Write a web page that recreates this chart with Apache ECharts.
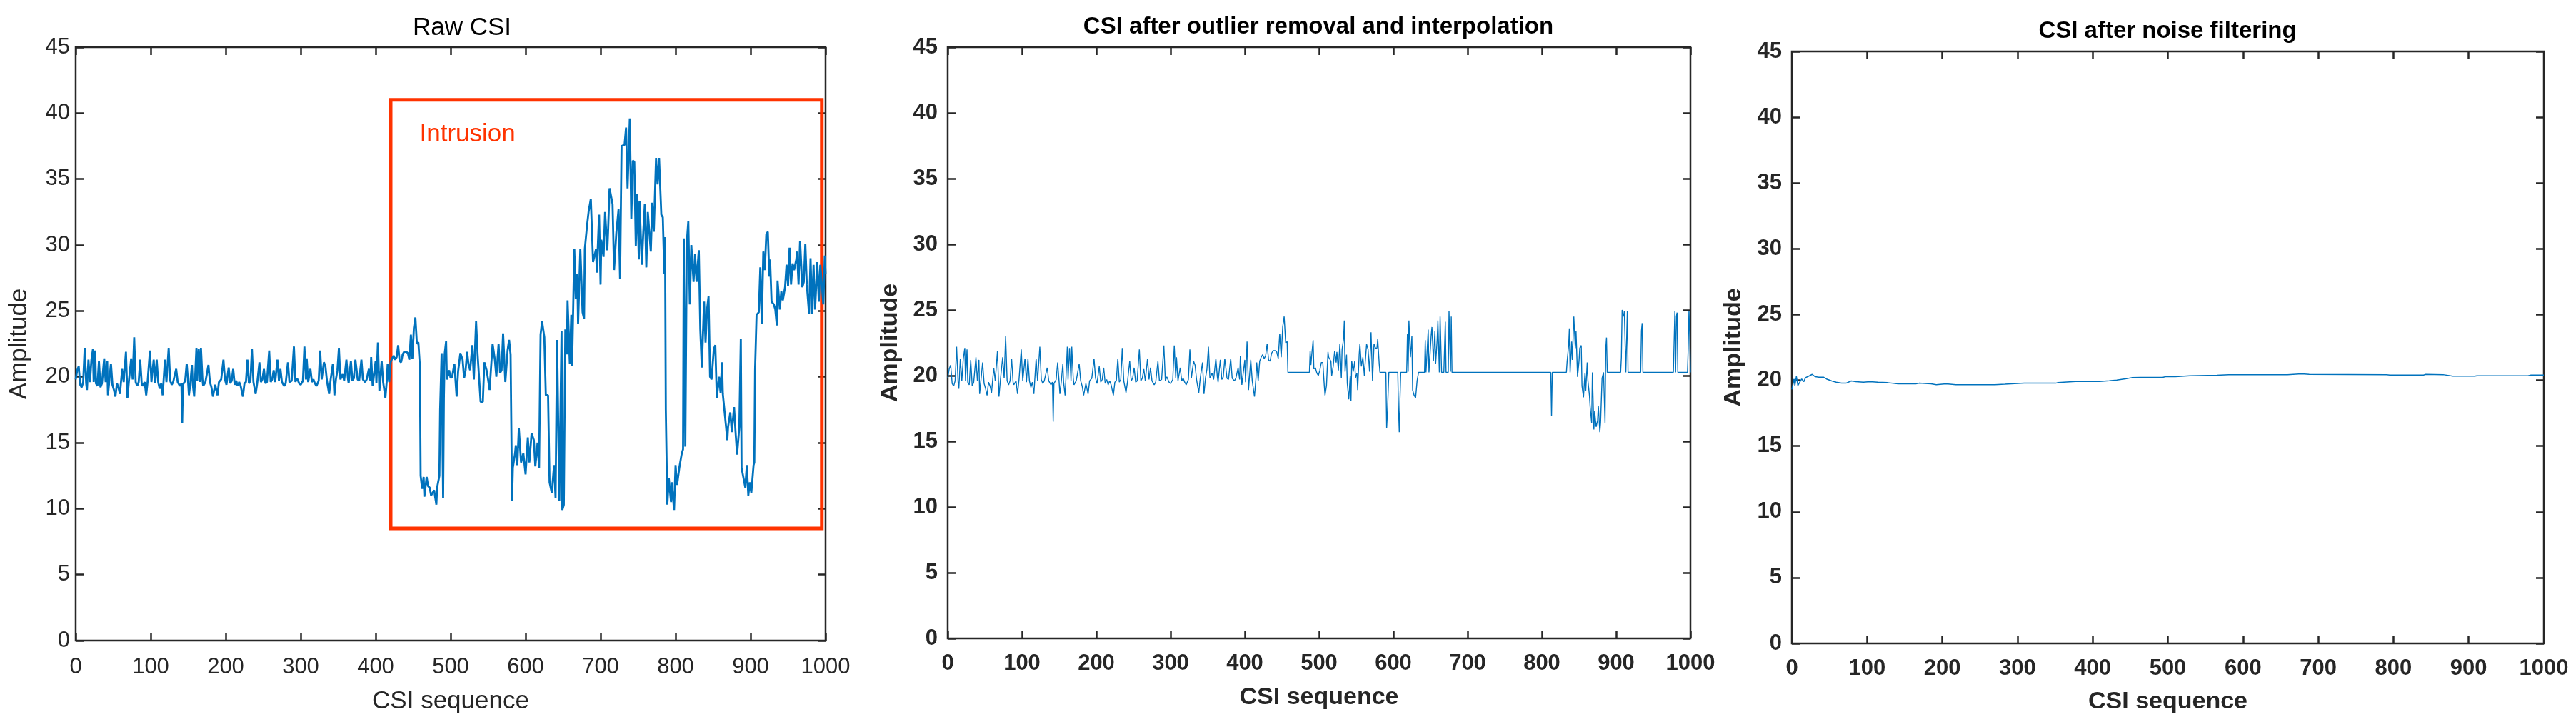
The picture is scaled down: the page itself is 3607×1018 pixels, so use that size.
<!DOCTYPE html>
<html>
<head>
    <meta charset="utf-8">
    <title>CSI</title>
    <script src="https://cdn.jsdelivr.net/npm/echarts@6/dist/echarts.min.js"></script>
    <style>
        html, body { margin: 0; padding: 0; background: #fff; }
        #main { width: 3607px; height: 1018px; }
    </style>
</head>
<body>
    <div id="main"></div>
    <script type="text/javascript">
        // panel titles
        var titles = ['Raw CSI', 'CSI after outlier removal and interpolation', 'CSI after noise filtering'];

        // raw CSI amplitude, [sequence index, amplitude]
        var rawCsi = [
            [0,19.8],[2,20.5],[4,20.8],[6,19.4],[8,19.2],[10,19.6],[12,22.2],[14,19.5],[15,19.0],[17,21.3],[19,19.6],[21,21.3],[23,22.1],[24,19.6],[26,22.0],[27,19.5],[29,19.3],[31,21.2],[33,19.2],[35,19.5],[38,21.4],[40,19.6],[42,21.2],[43,18.6],[45,19.8],[47,21.0],[49,19.4],[51,19.0],[53,18.5],[55,19.5],[57,19.2],[59,18.7],
            [62,20.6],[64,19.6],[67,21.9],[69,18.4],[71,19.7],[74,21.4],[76,19.8],[78,23.0],[80,19.6],[82,19.3],[84,19.6],[86,21.3],[88,19.5],[89,19.3],[92,19.6],[94,18.6],[96,19.7],[99,22.0],[101,19.6],[104,21.3],[106,19.5],[108,21.3],[110,19.6],[112,19.1],[114,19.5],[116,18.6],[119,21.3],[121,19.6],[124,22.2],[126,19.7],[128,19.4],[130,19.6],
            [134,20.6],[136,19.6],[139,19.3],[141,19.5],[142,16.5],[143,19.4],[146,19.7],[148,21.0],[150,19.5],[151,18.6],[153,19.6],[155,20.9],[156,19.5],[158,18.5],[159,19.6],[161,22.2],[162,19.7],[164,22.1],[166,19.6],[167,22.2],[169,19.8],[170,19.3],[173,19.6],[177,20.9],[179,19.6],[181,19.2],[183,18.5],[186,19.4],[189,18.6],[191,19.6],[194,19.8],[197,21.3],[199,19.8],
            [201,19.4],[204,20.7],[206,19.5],[208,19.7],[210,20.6],[212,19.4],[214,19.7],[216,19.3],[218,19.6],[220,19.3],[223,18.5],[225,19.5],[227,19.6],[229,21.3],[231,19.5],[233,19.7],[235,22.1],[237,19.6],[240,18.7],[242,19.5],[245,21.1],[247,19.6],[249,19.8],[251,20.6],[253,19.5],[255,19.6],[258,22.0],[260,19.6],[262,19.8],[264,20.5],[266,19.6],[269,21.3],[271,19.7],[273,20.6],[275,19.6],[278,19.3],[280,19.5],[283,21.1],[285,19.6],[288,19.7],[291,22.3],[293,19.6],[295,19.9],[298,19.5],
            [300,19.4],[303,19.7],[305,22.3],[307,19.8],[308,21.4],[310,19.6],[313,20.6],[315,19.6],[317,19.8],[319,19.5],[321,19.3],[324,19.7],[326,22.0],[328,19.8],[331,21.1],[333,20.8],[335,19.7],[338,18.7],[340,19.8],[343,21.0],[345,18.6],[347,19.8],[349,20.5],[351,22.2],[353,19.8],[356,20.2],[358,19.7],[361,21.3],[363,19.9],[364,19.5],[367,21.2],[369,19.7],[371,19.9],[373,21.3],[376,19.8],[378,19.7],[381,21.3],[383,19.8],[386,19.6],[388,19.8],[391,20.6],[393,19.7],[394,21.5],[396,19.3],[397,19.3],
            [400,21.2],[401,19.5],[403,22.6],[405,18.9],[406,19.7],[408,21.2],[410,19.6],[413,18.4],[415,19.8],[416,21.0],[418,19.6],[419,19.7],
            [420,21.1],[422,21.4],[424,21.6],[426,21.3],[428,21.5],[430,22.4],[432,21.2],[434,21.1],[436,21.7],[438,21.9],[441,21.9],[443,21.8],[445,21.3],[447,23.2],[449,21.4],[451,23.7],[453,24.5],[455,22.5],[457,22.6],[459,20.8],
            [460,12.5],[462,11.5],[464,12.4],[465,10.9],[468,12.4],[470,11.7],[472,11.6],[474,11.0],[476,11.2],[478,11.4],[481,10.3],[482,11.6],[485,12.5],[486,17.5],[488,21.8],[490,10.8],[491,18.4],[492,21.7],[494,22.7],[495,19.8],[498,20.5],
            [500,19.9],[502,20.0],[505,21.0],[508,18.5],[510,20.4],[513,21.8],[516,21.3],[518,19.9],[520,20.5],[522,21.9],[524,20.9],[526,20.5],[529,22.4],[531,19.8],[534,24.2],[536,21.7],[538,19.9],[540,18.1],[543,18.1],[545,21.1],[548,20.5],[550,19.8],[552,19.0],[556,22.5],[559,21.3],[561,20.0],[564,22.5],[566,20.3],[568,20.5],[570,23.3],[573,19.6],[576,22.0],[578,22.8],[580,21.7],
            [582,10.6],[583,13.1],[586,14.2],[587,14.8],[589,13.3],[591,16.1],[594,13.5],[597,14.2],[600,12.6],[603,15.4],[605,13.5],[608,15.7],[611,15.2],[613,13.2],[616,15.0],[618,13.1],[620,23.2],[622,24.2],[625,23.0],[627,18.6],[630,18.6],[632,12.0],[635,11.2],[638,13.3],[640,10.8],[642,22.8],[645,10.6],[648,23.5],[649,9.9],[651,10.3],[653,23.6],[655,21.7],[656,25.8],[659,21.0],[661,24.7],[662,20.8],[665,29.7],[667,25.9],[669,27.8],[670,24.0],[673,29.7],[676,24.9],[678,24.4],[679,29.7],
            [682,31.5],[684,32.5],[687,33.5],[690,28.7],[694,29.7],[695,27.9],[698,32.3],[700,27.0],[701,30.4],[704,29.1],[706,32.5],[709,29.6],[710,31.0],[712,34.3],[716,33.1],[718,28.1],[721,30.9],[724,32.7],[726,27.4],[728,37.5],[732,37.6],[734,38.9],[736,34.3],[739,39.6],[741,32.0],[743,36.4],[745,36.3],[747,29.9],[749,33.9],[751,28.9],[752,33.3],[755,28.5],[757,31.0],[759,33.1],[761,28.3],[763,32.5],[767,29.5],[769,33.2],[771,31.0],[774,36.6],[776,34.6],[778,36.6],[781,32.3],[783,32.1],[785,27.8],[786,30.6],
            [787,17.5],[789,10.3],[791,12.3],[794,10.5],[795,12.0],[798,9.9],[800,13.3],[802,11.8],[805,13.1],[808,14.1],[810,14.5],[811,30.5],[813,14.7],[815,30.2],[817,31.8],[819,25.5],[821,30.0],[824,27.2],[826,29.3],[828,27.2],[831,29.6],[833,23.6],[835,20.7],[838,25.7],[840,22.6],[842,25.1],[844,26.1],[846,20.0],[848,19.8],[851,22.1],[853,22.4],[855,18.4],[858,20.0],[860,18.8],[862,21.1],[863,18.7],[867,16.4],[869,15.2],[870,16.2],[873,17.3],[875,15.8],[878,17.7],[880,15.8],[882,14.1],[885,16.2],[887,22.9],[888,13.1],[890,12.5],[893,11.6],[895,13.3],[897,11.0],[899,12.0],
            [901,11.2],[904,13.3],[905,13.5],[906,20.5],[908,24.7],[911,24.9],[913,28.3],[915,24.0],[917,29.5],[919,28.1],[921,30.8],[923,31.0],[925,27.6],[926,28.9],[928,25.7],[931,25.5],[933,25.1],[935,23.9],[936,27.3],[939,25.1],[941,26.5],[943,25.8],[946,26.8],[948,28.5],[950,26.9],[952,29.8],[954,27.0],[956,28.6],[958,28.1],[961,28.9],[962,29.5],[964,27.0],[966,30.3],[969,26.8],[971,27.2],[973,30.1],[975,27.0],[978,24.8],[980,29.0],[982,24.8],[984,28.5],[986,25.1],[989,28.7],[991,25.7],[993,28.5],[997,25.5],[999,29.2],[1000,27.8]
        ];

        // after outlier removal: same as raw up to index 457, then this
        var cleanedTail = [
            [458,20.25],[487,20.25],[488,21.9],[489,20.8],[490,21.5],[492,22.7],[493,20.5],[495,20.6],[497,20.2],[499,20.0],[501,20.4],[503,21.0],[505,21.0],[507,19.25],[508,18.5],[510,19.25],[512,21.8],[513,21.4],[516,21.1],[517,20.0],[519,20.7],[521,21.9],[523,21.0],[524,21.8],[526,20.4],[528,22.4],[530,19.8],[531,22.0],[533,22.8],[534,24.2],[535,20.3],[537,21.6],[538,19.4],[540,18.2],[542,20.0],[543,18.1],[544,21.1],[546,20.3],[548,21.1],[549,19.8],
            [551,20.2],[552,18.9],[554,21.6],[555,22.4],[557,20.7],[559,21.4],[561,20.0],[562,20.9],[564,22.4],[566,22.0],[568,20.3],[570,23.3],[572,19.6],[574,22.4],[576,22.1],[578,22.1],[579,22.8],[581,20.9],[582,20.25],[590,20.25],[591,16.0],[592,17.1],[594,20.25],[606,20.25],[607,17.4],[608,15.7],[609,18.3],[610,20.25],[618,20.25],[619,23.2],[620,20.3],[621,24.2],[623,21.4],[625,23.0],[626,18.9],[628,18.5],[630,18.3],[632,19.6],[634,20.25],[642,20.25],[643,22.7],[644,20.25],[647,23.5],[648,20.25],
            [651,23.1],[652,23.7],[654,21.1],[656,23.4],[657,20.9],[659,22.7],[660,24.2],[662,20.25],[663,24.5],[665,20.25],[668,20.25],[670,24.1],[671,20.25],[674,20.25],[675,24.9],[677,20.3],[678,24.5],[679,20.25],[812,20.25],[813,16.9],[814,20.25],[833,20.25],[834,21.1],[836,22.3],[837,23.6],[838,20.25],[840,22.6],[841,21.2],[843,24.5],[845,22.1],[846,23.4],[848,19.9],[850,21.1],
            [851,22.1],[853,22.3],[854,19.2],[856,18.35],[858,20.2],[859,18.8],[861,21.0],[862,19.6],[864,18.5],[865,17.6],[867,16.4],[868,20.25],[870,15.9],[871,17.3],[873,16.1],[875,16.6],[876,17.7],[878,15.7],[879,16.4],[881,19.8],[883,20.25],[885,16.4],[886,22.1],[887,22.9],[888,20.25],[906,20.25],[907,21.4],[908,25.0],[910,24.5],[911,24.9],[913,20.25],[915,24.9],[916,20.25],[933,20.25],[934,23.4],[935,24.0],[936,20.25],[977,20.25],[979,24.9],[980,20.25],[981,24.5],[982,24.8],[983,20.25],[996,20.25],[997,22.1],[998,24.95],[999,23.2],[1000,20.25]
        ];

        // after noise filtering
        var filteredCsi = [
            [0,19.3],[1,19.3],[3,20.1],[4,19.6],[6,20.3],[8,19.6],[10,19.8],[13,20.1],[16,19.9],[18,20.2],[22,20.3],[27,20.45],[31,20.27],[36,20.24],[42,20.24],[46,20.1],[53,19.95],[59,19.85],[66,19.78],[72,19.78],[79,19.95],[85,19.9],[95,19.85],[104,19.9],[114,19.85],[127,19.82],[141,19.73],[165,19.73],[169,19.78],[185,19.73],[192,19.67],[205,19.73],[218,19.67],[270,19.67],[283,19.7],[309,19.78],[351,19.78],[354,19.83],[377,19.91],[409,19.91],
            [422,19.96],[432,20.02],[445,20.13],[452,20.2],[464,20.22],[493,20.22],[497,20.27],[510,20.27],[529,20.34],[565,20.38],[581,20.43],[594,20.42],[659,20.43],[678,20.49],[688,20.45],[791,20.43],[795,20.4],[840,20.4],[843,20.45],[866,20.43],[879,20.31],[908,20.31],[911,20.34],[979,20.34],[983,20.4],[1000,20.4]
        ];

        // intrusion window drawn on the raw panel: [index, amplitude] corners
        var intrusionBox = [[420, 41], [995, 8.5]];

        var cleanedCsi = rawCsi.filter(function (p) { return p[0] <= 457; }).concat(cleanedTail);
        var seriesData = [rawCsi, cleanedCsi, filteredCsi];

        var axisColor = '#262626';
        var fontFam = '"Liberation Sans", Arial, Helvetica, sans-serif';
        var panels = [
            { grid: { left: 106, top: 66, width: 1050, height: 831 }, weight: 'normal', titleSize: 35, tickSize: 31, nameSize: 35, lineWidth: 2.8, yMargin: 8, xMargin: 22, xGap: 68, yGap: 61, titleX: 647, titleY: 39.5 },
            { grid: { left: 1327, top: 66, width: 1040, height: 828 }, weight: 'bold', titleSize: 33, tickSize: 31, nameSize: 34, lineWidth: 1.4, yMargin: 14, xMargin: 20, xGap: 66, yGap: 63, titleX: 1846, titleY: 37.5 },
            { grid: { left: 2509, top: 72, width: 1053, height: 829 }, weight: 'bold', titleSize: 33, tickSize: 31, nameSize: 34, lineWidth: 1.5, yMargin: 14, xMargin: 20, xGap: 65, yGap: 64, titleX: 3035, titleY: 43.5 }
        ];

        var tick = { show: true, inside: true, length: 11, lineStyle: { color: axisColor, width: 2.5 } };
        // grid border draws the box; onZero off so the mirror axes stay on top/right
        var hiddenLine = { show: false, onZero: false };
        var grid = [], xAxis = [], yAxis = [], series = [], graphic = [];

        panels.forEach(function (p, i) {
            grid.push(Object.assign({ show: true, borderColor: axisColor, borderWidth: 2.5, backgroundColor: '#fff' }, p.grid));
            var label = { color: axisColor, fontSize: p.tickSize, fontWeight: p.weight, fontFamily: fontFam, formatter: function (v) { return String(v); } };
            var nameStyle = { color: axisColor, fontSize: p.nameSize, fontWeight: p.weight, fontFamily: fontFam };
            xAxis.push({
                type: 'value', gridIndex: i, position: 'bottom', min: 0, max: 1000, interval: 100,
                name: 'CSI sequence', nameLocation: 'middle', nameGap: p.xGap, nameTextStyle: nameStyle,
                axisLine: hiddenLine, axisTick: tick, splitLine: { show: false },
                axisLabel: Object.assign({ margin: p.xMargin }, label)
            });
            xAxis.push({
                type: 'value', gridIndex: i, position: 'top', min: 0, max: 1000, interval: 100,
                axisLine: hiddenLine, axisTick: tick, splitLine: { show: false }, axisLabel: { show: false }
            });
            yAxis.push({
                type: 'value', gridIndex: i, position: 'left', min: 0, max: 45, interval: 5,
                name: 'Amplitude', nameLocation: 'middle', nameGap: p.yGap, nameTextStyle: nameStyle,
                axisLine: hiddenLine, axisTick: tick, splitLine: { show: false },
                axisLabel: Object.assign({ margin: p.yMargin }, label)
            });
            yAxis.push({
                type: 'value', gridIndex: i, position: 'right', min: 0, max: 45, interval: 5,
                axisLine: hiddenLine, axisTick: tick, splitLine: { show: false }, axisLabel: { show: false }
            });
            var s = {
                type: 'line', xAxisIndex: i * 2, yAxisIndex: i * 2, data: seriesData[i],
                showSymbol: false, symbol: 'none', animation: false, z: 3,
                lineStyle: { color: '#0072BD', width: p.lineWidth }
            };
            if (i === 0) {
                s.markArea = {
                    silent: true,
                    itemStyle: { color: 'rgba(0,0,0,0)', borderColor: '#ff3300', borderWidth: 5 },
                    label: { show: true, position: [43, 33], color: '#ff3300', fontSize: 35, fontFamily: fontFam },
                    data: [[{ name: 'Intrusion', coord: intrusionBox[0] }, { coord: intrusionBox[1] }]]
                };
            }
            series.push(s);
            graphic.push({
                type: 'text', x: p.titleX, y: p.titleY, z: 10,
                style: { text: titles[i], fill: '#000', font: p.weight + ' ' + p.titleSize + 'px ' + fontFam, textAlign: 'center', textVerticalAlign: 'middle' }
            });
        });

        var myChart = echarts.init(document.getElementById('main'), null, { renderer: 'canvas' });
        myChart.setOption({
            backgroundColor: '#fff',
            animation: false,
            grid: grid,
            xAxis: xAxis,
            yAxis: yAxis,
            series: series,
            graphic: graphic
        });
    </script>
</body>
</html>
